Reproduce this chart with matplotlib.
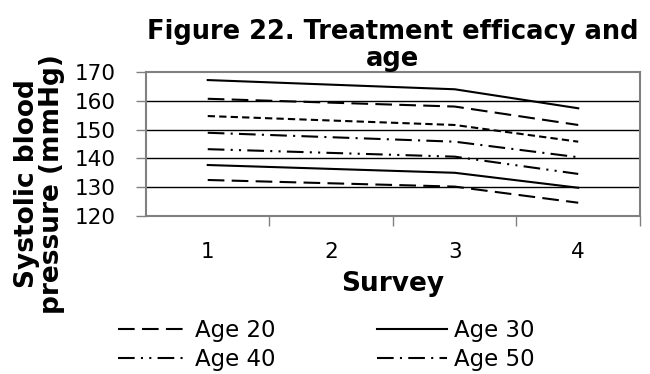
import numpy as np
import matplotlib
matplotlib.use("Agg")
import matplotlib.pyplot as plt

# survey 2 has no data, lines bridge the gap
surveys = [1, 3, 4]
categories = ["1", "2", "3", "4"]
ages = ["Age 20", "Age 30", "Age 40", "Age 50", "Age 60", "Age 70", "Age 80"]
age20 = [132.5, 130.2, 124.6]
age30 = [137.7, 135.0, 129.8]
age40 = [143.2, 140.6, 134.6]
age50 = [148.9, 145.8, 140.4]
age60 = [154.7, 151.6, 145.8]
age70 = [160.7, 158.0, 151.6]
age80 = [167.2, 164.0, 157.4]

series = [age20, age30, age40, age50, age60, age70, age80]
styles = [
    (0, (8, 3.5)),
    "-",
    (0, (8, 3, 1, 3, 1, 3)),
    (0, (8, 3, 1, 3)),
    (0, (3.5, 2)),
    (0, (8, 3.5)),
    "-",
]

plt.rcParams['font.family'] = ['DejaVu Sans']
fig = plt.figure(figsize=(6.5, 3.74), dpi=100)
ax = fig.add_axes([0.2246, 0.4225, 0.76, 0.385])

lines = []
for vals, ls in zip(series, styles):
    ln, = ax.plot(surveys, vals, color="black", lw=1.5, linestyle=ls)
    lines.append(ln)

ax.set_xlim(0.5, 4.5)
ax.set_ylim(120, 170)
ax.set_yticks(np.arange(120, 171, 10))
ax.set_xticks([1, 2, 3, 4])
ax.set_xticklabels(categories)
ax.set_xticks([1.5, 2.5, 3.5, 4.5], minor=True)
ax.tick_params(axis="x", which="major", length=0, labelsize=15.5, pad=19)
ax.tick_params(axis="x", which="minor", length=7, width=1, color="#808080")
ax.tick_params(axis="y", labelsize=15.5, length=7, width=1, color="#808080", pad=15)
for y in [130, 140, 150, 160]:
    ax.axhline(y, color="black", lw=1, zorder=0)

for s in ["top", "right", "left", "bottom"]:
    ax.spines[s].set_color("#808080")
    ax.spines[s].set_linewidth(1.5)

ax.set_title("Figure 22. Treatment efficacy and\nage", fontsize=18.5, fontweight="bold",
             pad=0, linespacing=1.05)
ax.set_xlabel("Survey", fontsize=19, fontweight="bold", labelpad=6)
ax.set_ylabel("Systolic blood\npressure (mmHg)", fontsize=19, fontweight="bold",
              linespacing=0.95)
ax.yaxis.label.set_va("center")
ax.yaxis.set_label_coords(-0.2146, 0.222)

# legend shows only the first four series, row by row
order = [0, 2, 1, 3]
leg = fig.legend([lines[i] for i in order], [ages[i] for i in order],
                 loc="upper left", bbox_to_anchor=(118 / 650, 1 - 319 / 374), ncol=2,
                 frameon=False, fontsize=16.5, handlelength=3.05, handletextpad=0.3,
                 columnspacing=4.45, labelspacing=0.28, borderpad=0, borderaxespad=0)

fig.savefig("out.png", dpi=100)
